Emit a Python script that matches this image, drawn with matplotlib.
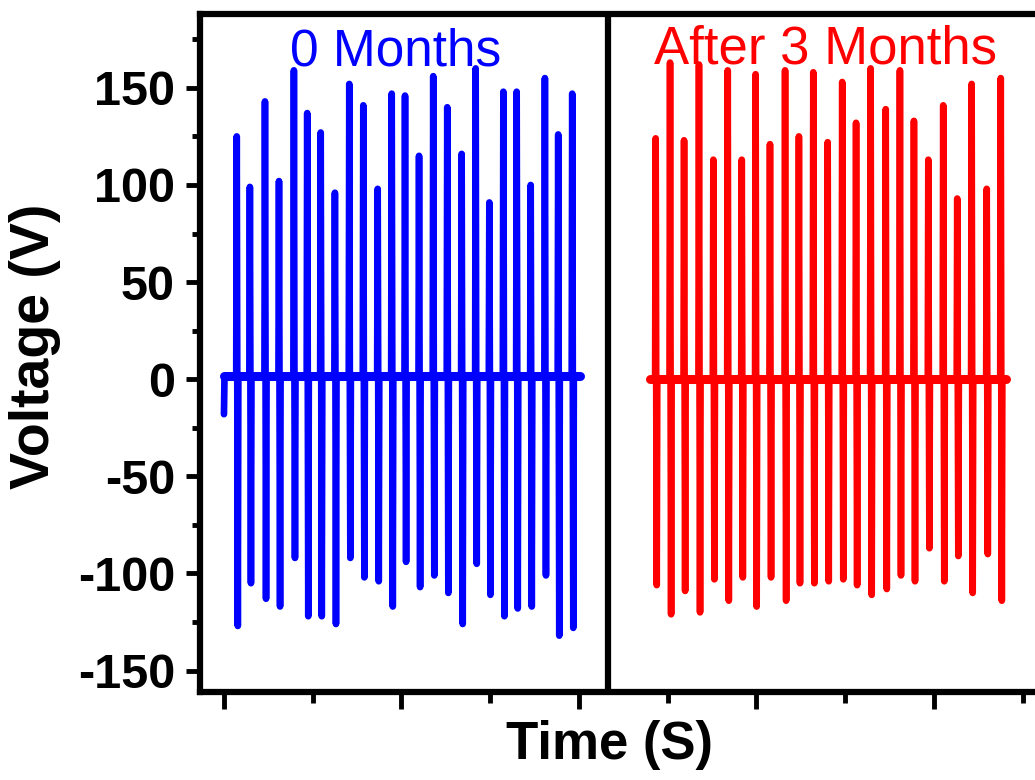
import numpy as np
import matplotlib
matplotlib.use("Agg")
import matplotlib.pyplot as plt
from matplotlib.ticker import MultipleLocator, NullFormatter

plt.rcParams['font.family'] = ['Liberation Sans', 'DejaVu Sans']
plt.rcParams['axes.unicode_minus'] = False

# pulse times (s) and peak voltages (V)
t_0m = [0.72, 1.46, 2.31, 3.10, 3.94, 4.69, 5.45, 6.25, 7.06, 7.85, 8.66, 9.45, 10.20,
        10.99, 11.79, 12.58, 13.39, 14.18, 14.95, 15.74, 16.49, 17.28, 18.08, 18.83, 19.62]
pos_0m = [125, 99, 143, 102, 159, 137, 127, 96, 152, 141, 98, 147, 146,
          115, 156, 140, 116, 160, 91, 148, 148, 100, 155, 126, 147]
neg_0m = [-127, -105, -113, -117, -92, -122, -122, -126, -92, -102, -104, -117, -94,
          -107, -101, -110, -126, -95, -111, -122, -118, -117, -101, -132, -128]
start_0m, end_0m, base_0m, dip_0m = 0.0, 20.06, 1.5, -18

t_3m = [24.32, 25.13, 25.92, 26.76, 27.57, 28.38, 29.17, 29.95, 30.76, 31.61, 32.39, 33.20, 34.01,
        34.83, 35.61, 36.43, 37.28, 38.08, 38.87, 39.68, 40.52, 41.31, 42.12, 42.97, 43.76]
pos_3m = [124, 163, 123, 162, 113, 159, 113, 157, 121, 159, 125, 158, 122,
          153, 132, 160, 139, 159, 133, 113, 141, 93, 152, 98, 155]
neg_3m = [-106, -121, -109, -120, -103, -114, -102, -117, -102, -114, -105, -105, -104,
          -103, -106, -111, -108, -101, -104, -87, -104, -91, -110, -90, -114]
start_3m, end_3m, base_3m = 24.0, 44.06, 0.0

divider = 21.63


def trace(t, pos, neg, start, end, base, first=None):
    xs, ys = [], []
    if first is not None:
        xs += [start, start + 0.03]
        ys += [first, base]
    else:
        xs.append(start)
        ys.append(base)
    for ti, p, n in zip(t, pos, neg):
        xs += [ti - 0.03, ti, ti + 0.03, ti + 0.06, ti + 0.09]
        ys += [base, p, base, n, base]
    xs.append(end)
    ys.append(base)
    return xs, ys


fig = plt.figure(figsize=(10.35, 7.8), dpi=100)
ax = fig.add_axes([200 / 1035, 1 - 692 / 780, 1 - 200 / 1035, (692 - 14) / 780])

x0, y0 = trace(t_0m, pos_0m, neg_0m, start_0m, end_0m, base_0m, first=dip_0m)
x3, y3 = trace(t_3m, pos_3m, neg_3m, start_3m, end_3m, base_3m)
for xs, ys, c, s, e, b in [(x0, y0, '#0000ff', start_0m, end_0m, base_0m),
                           (x3, y3, '#ff0000', start_3m, end_3m, base_3m)]:
    ax.plot(xs, ys, color=c, lw=4.8, solid_capstyle='round', solid_joinstyle='round')
    # the noisy baseline reads thicker than the spikes
    ax.plot([s, e], [b, b], color=c, lw=6.5, solid_capstyle='round')
ax.axvline(divider, color='k', lw=4.5)

ax.set_xlim(-1.35, 45.69)
ax.set_ylim(-161, 188)

ax.yaxis.set_major_locator(MultipleLocator(50))
ax.yaxis.set_minor_locator(MultipleLocator(25))
ax.xaxis.set_major_locator(MultipleLocator(10))
ax.xaxis.set_minor_locator(MultipleLocator(5))
ax.xaxis.set_major_formatter(NullFormatter())

ax.tick_params(axis='y', which='major', length=10, width=3.5, direction='out', pad=8,
               labelsize=35)
ax.tick_params(axis='y', which='minor', length=6, width=3.5, direction='out')
ax.tick_params(axis='x', which='major', length=12, width=3.5, direction='out')
ax.tick_params(axis='x', which='minor', length=8, width=3.5, direction='out')
for lab in ax.get_yticklabels():
    lab.set_fontweight('bold')

for side in ['left', 'bottom', 'top']:
    ax.spines[side].set_linewidth(4.5)
ax.spines['right'].set_visible(False)

ax.text(396 / 1035, 1 - 65 / 780, '0 Months', transform=fig.transFigure, color='#0000ff',
        fontsize=37, ha='center', va='baseline')
ax.text(826 / 1035, 1 - 64 / 780, 'After 3 Months', transform=fig.transFigure, color='#ff0000',
        fontsize=38, ha='center', va='baseline')

fig.text(35 / 1035, 1 - 346 / 780, 'Voltage (V)', rotation=90, fontsize=40,
         fontweight='bold', ha='center', va='center')
fig.text(610 / 1035, 1 - 745 / 780, 'Time (S)', fontsize=38, fontweight='bold',
         ha='center', va='center')

fig.savefig('out.png', dpi=100)
